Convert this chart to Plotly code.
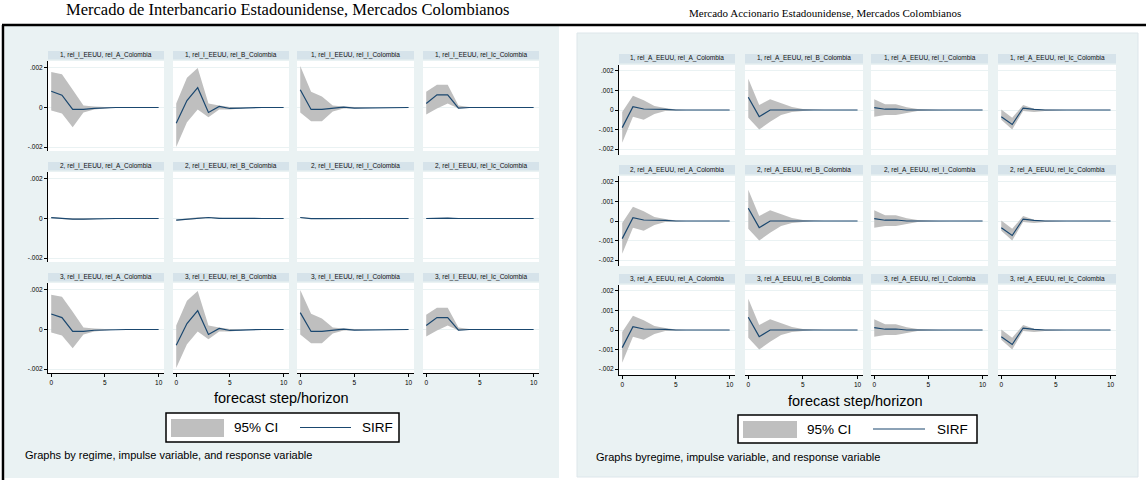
import plotly.graph_objects as go

W, H = 1146, 480

steps = list(range(11))
responses = ["rel_A_Colombia", "rel_B_Colombia", "rel_I_Colombia", "rel_Ic_Colombia"]
regimes = ["1", "2", "3"]
ib_impulse = "rel_I_EEUU"
eq_impulse = "rel_A_EEUU"

ib_title = "Mercado de Interbancario Estadounidense, Mercados Colombianos"
eq_title = "Mercado Accionario Estadounidense, Mercados Colombianos"
xlab = "forecast step/horizon"
ib_note = "Graphs by regime, impulse variable, and response variable"
eq_note = "Graphs byregime, impulse variable, and response variable"
leg_ci = "95% CI"
leg_sirf = "SIRF"

ib_yticks = [-0.002, 0, 0.002]
ib_yticktext = ["-.002", "0", ".002"]
eq_yticks = [-0.002, -0.001, 0, 0.001, 0.002]
eq_yticktext = ["-.002", "-.001", "0", ".001", ".002"]
xticks = [0, 5, 10]

# ---- Interbank panel, regime 1 (A, B, I, Ic) ----
ib_r1_sirf = [
    [0.00082, 0.00062, -0.00010, -0.00010, -0.00005, -0.00002, 0, 0, 0, 0, 0],
    [-0.00080, 0.00035, 0.00100, -0.00025, 0.00005, -0.00005, -0.00003, 0, 0, 0, 0],
    [0.00090, -0.00010, -0.00010, -0.00005, 0.00002, -0.00003, -0.00003, 0, 0, 0, 0],
    [0.00020, 0.00064, 0.00064, -0.00003, 0.00000, 0, 0, 0, 0, 0, 0],
]
ib_r1_hi = [
    [0.00180, 0.00168, 0.00090, 0.00010, 0.00005, 0.00002, 0, 0, 0, 0, 0],
    [0.00020, 0.00150, 0.00200, 0.00020, 0.00010, 0.00003, 0, 0, 0, 0, 0],
    [0.00210, 0.00080, 0.00055, 0.00010, 0.00005, 0.00002, 0, 0, 0, 0, 0],
    [0.00080, 0.00115, 0.00115, 0.00010, 0.00003, 0, 0, 0, 0, 0, 0],
]
ib_r1_lo = [
    [-0.00015, -0.00030, -0.00100, -0.00025, -0.00010, -0.00005, 0, 0, 0, 0, 0],
    [-0.00200, -0.00075, -0.00010, -0.00050, -0.00010, -0.00010, -0.00005, 0, 0, 0, 0],
    [-0.00025, -0.00070, -0.00070, -0.00020, -0.00005, -0.00005, -0.00003, 0, 0, 0, 0],
    [-0.00035, -0.00005, 0.00020, -0.00005, -0.00003, -0.00002, 0, 0, 0, 0, 0],
]
# ---- Interbank panel, regime 2 ----
ib_r2_sirf = [
    [0.00004, -0.00001, -0.00003, -0.00003, -0.00001, 0, 0, 0, 0, 0, 0],
    [-0.00008, -0.00004, 0.00003, 0.00005, 0.00001, 0, 0, 0, 0, 0, 0],
    [0.00005, -0.00001, -0.00001, 0, 0, 0, 0, 0, 0, 0, 0],
    [0, 0.00002, 0.00002, 0, 0, 0, 0, 0, 0, 0, 0],
]
ib_r2_hi = [
    [0.00007, 0.00002, 0.00001, 0.00001, 0, 0, 0, 0, 0, 0, 0],
    [-0.00005, 0, 0.00006, 0.00007, 0.00002, 0, 0, 0, 0, 0, 0],
    [0.00008, 0.00001, 0.00001, 0, 0, 0, 0, 0, 0, 0, 0],
    [0.00002, 0.00004, 0.00004, 0.00001, 0, 0, 0, 0, 0, 0, 0],
]
ib_r2_lo = [
    [0.00001, -0.00004, -0.00007, -0.00007, -0.00002, 0, 0, 0, 0, 0, 0],
    [-0.00011, -0.00007, 0, 0.00002, 0, 0, 0, 0, 0, 0, 0],
    [0.00002, -0.00003, -0.00003, -0.00001, 0, 0, 0, 0, 0, 0, 0],
    [-0.00002, 0, 0, -0.00001, 0, 0, 0, 0, 0, 0, 0],
]
# ---- Interbank panel, regime 3 ----
ib_r3_sirf = [
    [0.00078, 0.00060, -0.00010, -0.00010, -0.00004, -0.00002, 0, 0, 0, 0, 0],
    [-0.00080, 0.00030, 0.00095, -0.00025, 0.00005, -0.00005, -0.00003, 0, 0, 0, 0],
    [0.00085, -0.00010, -0.00010, -0.00005, 0.00002, -0.00003, -0.00003, 0, 0, 0, 0],
    [0.00020, 0.00060, 0.00060, -0.00003, 0, 0, 0, 0, 0, 0, 0],
]
ib_r3_hi = [
    [0.00175, 0.00165, 0.00090, 0.00010, 0.00005, 0.00002, 0, 0, 0, 0, 0],
    [0.00020, 0.00145, 0.00195, 0.00020, 0.00010, 0.00003, 0, 0, 0, 0, 0],
    [0.00200, 0.00080, 0.00055, 0.00010, 0.00005, 0.00002, 0, 0, 0, 0, 0],
    [0.00075, 0.00110, 0.00110, 0.00010, 0.00003, 0, 0, 0, 0, 0, 0],
]
ib_r3_lo = [
    [-0.00015, -0.00030, -0.00095, -0.00025, -0.00010, -0.00005, 0, 0, 0, 0, 0],
    [-0.00195, -0.00075, -0.00010, -0.00050, -0.00010, -0.00010, -0.00005, 0, 0, 0, 0],
    [-0.00025, -0.00070, -0.00070, -0.00020, -0.00005, -0.00005, -0.00003, 0, 0, 0, 0],
    [-0.00035, -0.00005, 0.00020, -0.00005, -0.00003, -0.00002, 0, 0, 0, 0, 0],
]
# ---- Equity panel (the three regimes show the same responses) ----
eq_sirf = [
    [-0.00090, 0.00017, 0.00005, 0.00005, 0.00003, 0, 0, 0, 0, 0, 0],
    [0.00065, -0.00034, 0.00000, 0.00000, 0, 0, 0, 0, 0, 0, 0],
    [0.00012, 0.00004, 0.00005, 0.00000, 0, 0, 0, 0, 0, 0, 0],
    [-0.00035, -0.00074, 0.00010, 0.00003, 0, 0, 0, 0, 0, 0, 0],
]
eq_hi = [
    [-0.00010, 0.00073, 0.00050, 0.00020, 0.00010, 0.00003, 0, 0, 0, 0, 0],
    [0.00160, 0.00025, 0.00055, 0.00035, 0.00015, 0.00005, 0.00002, 0, 0, 0, 0],
    [0.00055, 0.00030, 0.00030, 0.00014, 0.00005, 0.00002, 0, 0, 0, 0, 0],
    [0.00003, -0.00040, 0.00025, 0.00007, 0.00002, 0, 0, 0, 0, 0, 0],
]
eq_lo = [
    [-0.00167, -0.00034, -0.00050, -0.00020, -0.00005, -0.00002, 0, 0, 0, 0, 0],
    [-0.00040, -0.00100, -0.00060, -0.00025, -0.00010, -0.00004, 0, 0, 0, 0, 0],
    [-0.00035, -0.00025, -0.00025, -0.00015, -0.00005, -0.00002, 0, 0, 0, 0, 0],
    [-0.00050, -0.00100, -0.00005, -0.00010, -0.00005, -0.00002, 0, 0, 0, 0, 0],
]

ib_data = [(ib_r1_sirf, ib_r1_hi, ib_r1_lo), (ib_r2_sirf, ib_r2_hi, ib_r2_lo), (ib_r3_sirf, ib_r3_hi, ib_r3_lo)]
eq_data = [(eq_sirf, eq_hi, eq_lo)] * 3

# ---- styling / layout constants (pixels) ----
BG = "#eaf2f3"
STRIP = "#d6e3ea"
GRID = "#eaf2f3"
CI = "#bfbfbf"
LINE = "#1a476f"
FONT = "Liberation Sans, Arial, sans-serif"
SERIF = "Liberation Serif, Times New Roman, serif"


def fx(p):
    return p / W


def fy(p):
    return 1 - p / H


panels = [
    dict(impulse=ib_impulse, data=ib_data, yr=[-0.0022, 0.00235], yt=ib_yticks, ytt=ib_yticktext,
         cols=[(48, 164), (173, 289), (297, 414), (423, 539)],
         rows=[(61, 151), (172, 262), (283, 373)], strip=9),
    dict(impulse=eq_impulse, data=eq_data, yr=[-0.0023, 0.0023], yt=eq_yticks, ytt=eq_yticktext,
         cols=[(619, 735), (745, 863), (871, 988), (998, 1116)],
         rows=[(65, 155), (176, 266), (285, 375)], strip=10),
]

fig = go.Figure()
shapes = []
annotations = []
layout_axes = {}

# panel backgrounds
shapes.append(dict(type="rect", xref="paper", yref="paper", x0=fx(5), x1=fx(559), y0=fy(478), y1=fy(26),
                   fillcolor=BG, line=dict(width=0), layer="below"))
shapes.append(dict(type="rect", xref="paper", yref="paper", x0=fx(577), x1=fx(1138), y0=fy(477), y1=fy(33),
                   fillcolor=BG, line=dict(width=1, color="#dde6ea"), layer="below"))
# black frame lines
shapes.append(dict(type="line", xref="paper", yref="paper", x0=fx(2), x1=fx(1146), y0=fy(25), y1=fy(25),
                   line=dict(width=2.5, color="black")))
shapes.append(dict(type="line", xref="paper", yref="paper", x0=fx(3), x1=fx(3), y0=fy(25), y1=fy(480),
                   line=dict(width=2.5, color="black")))

idx = 0
for p in panels:
    for ri, (sirf_set, hi_set, lo_set) in enumerate(p["data"]):
        top, bot = p["rows"][ri]
        for ci in range(4):
            idx += 1
            left, right = p["cols"][ci]
            xa = "x" if idx == 1 else f"x{idx}"
            ya = "y" if idx == 1 else f"y{idx}"
            shapes.append(dict(type="rect", xref="paper", yref="paper", x0=fx(left), x1=fx(right),
                               y0=fy(bot), y1=fy(top), fillcolor="white", line=dict(width=0), layer="below"))
            shapes.append(dict(type="rect", xref="paper", yref="paper", x0=fx(left), x1=fx(right),
                               y0=fy(top - 1.5), y1=fy(top - p["strip"] - 1), fillcolor=STRIP,
                               line=dict(width=0), layer="below"))
            annotations.append(dict(xref="paper", yref="paper", x=fx((left + right) / 2),
                                    y=fy(top - 1 - p["strip"] / 2 - 0.5),
                                    text=f"{regimes[ri]}, {p['impulse']}, {responses[ci]}", showarrow=False,
                                    font=dict(family=FONT, size=6.5, color="#111"),
                                    xanchor="center", yanchor="middle"))
            fig.add_trace(go.Scatter(x=steps, y=lo_set[ci], mode="lines", line=dict(width=0, color=CI),
                                     xaxis=xa, yaxis=ya, showlegend=False, hoverinfo="skip"))
            fig.add_trace(go.Scatter(x=steps, y=hi_set[ci], mode="lines", line=dict(width=0, color=CI),
                                     fill="tonexty", fillcolor=CI, xaxis=xa, yaxis=ya, showlegend=False,
                                     hoverinfo="skip"))
            fig.add_trace(go.Scatter(x=steps, y=sirf_set[ci], mode="lines", line=dict(width=1.2, color=LINE),
                                     xaxis=xa, yaxis=ya, showlegend=False))
            last_row = ri == 2
            layout_axes["xaxis" if idx == 1 else f"xaxis{idx}"] = dict(
                domain=[fx(left), fx(right)], anchor=ya, range=[-0.3, 10.5], showgrid=False, zeroline=False,
                showline=last_row, linecolor="black", linewidth=1, ticks="outside" if last_row else "",
                ticklen=3, tickwidth=1, tickcolor="black", tickvals=xticks, showticklabels=last_row,
                tickfont=dict(family=FONT, size=6.5, color="black"), fixedrange=True)
            first_col = ci == 0
            layout_axes["yaxis" if idx == 1 else f"yaxis{idx}"] = dict(
                domain=[fy(bot), fy(top)], anchor=xa, range=p["yr"], showgrid=True, gridcolor=GRID,
                gridwidth=1, zeroline=False, tickvals=p["yt"], ticktext=p["ytt"],
                showline=first_col, linecolor="black", linewidth=1, ticks="outside" if first_col else "",
                ticklen=3, tickwidth=1, tickcolor="black", showticklabels=first_col,
                tickfont=dict(family=FONT, size=6.5, color="black"), fixedrange=True)

# titles
annotations.append(dict(xref="paper", yref="paper", x=fx(288), y=fy(9), text=ib_title, showarrow=False,
                        font=dict(family=SERIF, size=16.5, color="black"), xanchor="center", yanchor="middle"))
annotations.append(dict(xref="paper", yref="paper", x=fx(825), y=fy(13), text=eq_title, showarrow=False,
                        font=dict(family=SERIF, size=11, color="black"), xanchor="center", yanchor="middle"))

# x titles, legends, notes
legend_specs = [
    dict(xt=281.5, yt=398, box=(166, 413, 399, 442), sw=(171, 419, 224, 437), ci_x=232, ln=(300, 351),
         s_x=360, note=ib_note, nx=23, ny=455),
    dict(xt=855.5, yt=401, box=(738, 415, 977, 443), sw=(743, 421, 797, 438), ci_x=805, ln=(873, 925),
         s_x=935, note=eq_note, nx=594, ny=457),
]
for L in legend_specs:
    annotations.append(dict(xref="paper", yref="paper", x=fx(L["xt"]), y=fy(L["yt"]), text=xlab, showarrow=False,
                            font=dict(family=FONT, size=14.5, color="black"), xanchor="center", yanchor="middle"))
    x0, y0, x1, y1 = L["box"]
    shapes.append(dict(type="rect", xref="paper", yref="paper", x0=fx(x0), x1=fx(x1), y0=fy(y1), y1=fy(y0),
                       fillcolor="white", line=dict(width=1.5, color="black")))
    sx0, sy0, sx1, sy1 = L["sw"]
    shapes.append(dict(type="rect", xref="paper", yref="paper", x0=fx(sx0), x1=fx(sx1), y0=fy(sy1), y1=fy(sy0),
                       fillcolor=CI, line=dict(width=0)))
    ym = (y0 + y1) / 2
    shapes.append(dict(type="line", xref="paper", yref="paper", x0=fx(L["ln"][0]), x1=fx(L["ln"][1]),
                       y0=fy(ym), y1=fy(ym), line=dict(width=1.2, color=LINE)))
    annotations.append(dict(xref="paper", yref="paper", x=fx(L["ci_x"]), y=fy(ym), text=leg_ci, showarrow=False,
                            font=dict(family=FONT, size=13.5, color="black"), xanchor="left", yanchor="middle"))
    annotations.append(dict(xref="paper", yref="paper", x=fx(L["s_x"]), y=fy(ym), text=leg_sirf, showarrow=False,
                            font=dict(family=FONT, size=13.5, color="black"), xanchor="left", yanchor="middle"))
    annotations.append(dict(xref="paper", yref="paper", x=fx(L["nx"]), y=fy(L["ny"]), text=L["note"],
                            showarrow=False, font=dict(family=FONT, size=11, color="black"),
                            xanchor="left", yanchor="middle"))

fig.update_layout(width=W, height=H, margin=dict(l=0, r=0, t=0, b=0), paper_bgcolor="white",
                  plot_bgcolor="rgba(0,0,0,0)", showlegend=False, shapes=shapes, annotations=annotations,
                  **layout_axes)

fig.write_html("out.html", config={"displayModeBar": False})
